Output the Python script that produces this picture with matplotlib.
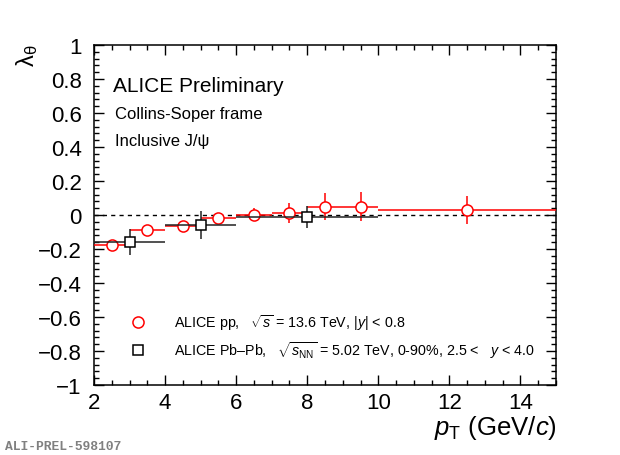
import numpy as np
import matplotlib
matplotlib.use("Agg")
import matplotlib.pyplot as plt
from matplotlib.ticker import MultipleLocator, FuncFormatter

plt.rcParams['font.family'] = ['Liberation Sans', 'DejaVu Sans']
plt.rcParams['mathtext.fontset'] = 'custom'
plt.rcParams['mathtext.rm'] = 'Liberation Sans'
plt.rcParams['mathtext.it'] = 'Liberation Sans:italic'
plt.rcParams['mathtext.bf'] = 'Liberation Sans:bold'

## pp 13.6 TeV, |y| < 0.8
pp_x = [2.5, 3.5, 4.5, 5.5, 6.5, 7.5, 8.5, 9.5, 12.5]
pp_xlo = [2, 3, 4, 5, 6, 7, 8, 9, 10]
pp_xhi = [3, 4, 5, 6, 7, 8, 9, 10, 15]
pp_y = [-0.178, -0.088, -0.067, -0.020, 0.002, 0.012, 0.050, 0.050, 0.030]
pp_ey = [0.015, 0.015, 0.015, 0.025, 0.040, 0.060, 0.080, 0.087, 0.080]

## Pb-Pb 5.02 TeV, 0-90%, 2.5 < y < 4.0
pb_x = [3.0, 5.0, 8.0]
pb_xlo = [2, 4, 6]
pb_xhi = [4, 6, 10]
pb_y = [-0.157, -0.059, -0.012]
pb_ey = [0.077, 0.083, 0.065]

W, H = 620, 456
fig = plt.figure(figsize=(W/100, H/100), dpi=100)
ax = fig.add_axes([94/W, 1-386/H, (556-94)/W, (386-46)/H])

ax.plot([2, 15], [0, 0], ls=(0, (3, 3)), color='black', lw=1.0, zorder=1)

pp_x = np.array(pp_x)
pp_xerr = [pp_x - np.array(pp_xlo), np.array(pp_xhi) - pp_x]
ax.errorbar(pp_x, pp_y, xerr=pp_xerr, yerr=pp_ey, fmt='o', color='red',
            mfc='white', mec='red', ms=8, mew=1.1, elinewidth=1.1, capsize=0, zorder=3)

pb_x = np.array(pb_x)
pb_xerr = [pb_x - np.array(pb_xlo), np.array(pb_xhi) - pb_x]
ax.errorbar(pb_x, pb_y, xerr=pb_xerr, yerr=pb_ey, fmt='s', color='#222222',
            mfc='white', mec='black', ms=7.5, mew=1.1, elinewidth=1.1, capsize=0, zorder=4)

ax.set_xlim(2, 15)
ax.set_ylim(-1, 1)
ax.xaxis.set_major_locator(MultipleLocator(2))
ax.xaxis.set_minor_locator(MultipleLocator(0.5))
ax.yaxis.set_major_locator(MultipleLocator(0.2))
ax.yaxis.set_minor_locator(MultipleLocator(0.04))

def fmt(v, pos):
    s = '%g' % round(v, 2)
    if s == '-0':
        s = '0'
    return s.replace('-', '\u2212')
ax.yaxis.set_major_formatter(FuncFormatter(fmt))
ax.xaxis.set_major_formatter(FuncFormatter(fmt))

ax.tick_params(which='both', direction='in', top=True, right=True, width=1.0)
ax.tick_params(which='major', length=7.5)
ax.tick_params(which='minor', length=3.8)
ax.tick_params(axis='y', labelsize=16, pad=9)
ax.tick_params(axis='x', labelsize=16, pad=5)
for sp in ax.spines.values():
    sp.set_linewidth(1.1)

ax.text(0.041, 0.88, 'ALICE Preliminary', transform=ax.transAxes, fontsize=15, va='center')
ax.text(0.045, 0.80, 'Collins-Soper frame', transform=ax.transAxes, fontsize=12, va='center')
ax.text(0.045, 0.72, 'Inclusive J/\u03c8', transform=ax.transAxes, fontsize=12, va='center')

# legend drawn by hand like ROOT TLegend
ax.plot([3.25], [-0.63], 'o', mfc='white', mec='red', ms=8, mew=1.1)
ax.plot([3.25], [-0.795], 's', mfc='white', mec='black', ms=7.5, mew=1.1)
ax.text(4.25, -0.63, r'ALICE pp,   $\sqrt{s}$ = 13.6 TeV, $|y|$ < 0.8', fontsize=10.3, va='center')
ax.text(4.25, -0.795, r'ALICE Pb\u2013Pb,   $\sqrt{s_{\rm NN}}$ = 5.02 TeV, 0-90%, 2.5 <   $y$ < 4.0'
        .replace(r'\u2013', '\u2013'), fontsize=10.3, va='center')

fig.text(557/W, 1-428/H, r'$p_{\rm T}$ (GeV/$c$)', fontsize=18.5, ha='right', va='center')
fig.text(27/W, 1-45/H, r'$\mathrm{\lambda}_{\mathrm{\theta}}$', fontsize=17, ha='center', va='top', rotation=90)

fig.text(5/W, 1-447/H, 'ALI-PREL-598107', family='Liberation Mono', weight='bold',
         color='#808080', fontsize=9.4, va='center')

fig.savefig('out.png', dpi=100)
